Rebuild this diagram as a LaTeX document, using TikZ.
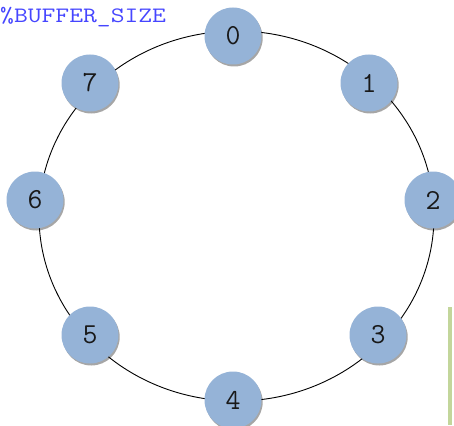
\documentclass[tikz,border=0pt]{standalone}
\usetikzlibrary{shadows}
\definecolor{slotblue}{RGB}{149,179,215}
\definecolor{labelblue}{RGB}{70,70,255}
\definecolor{bargreen}{RGB}{195,214,155}
\begin{document}
\begin{tikzpicture}[x=1pt,y=-1pt,
  slot/.style={circle, fill=slotblue, minimum size=57pt, inner sep=0pt,
    font=\ttfamily\fontsize{29}{29}\selectfont, text=black!90,
    drop shadow={shadow xshift=1.2pt, shadow yshift=-2pt, opacity=0.35, fill=black}},
  ring/.style={draw=black, line width=0.9pt}]
\useasboundingbox (0,0) rectangle (454,425);
% the ring of buffer slots
\draw[ring] (236.5,216) ellipse [x radius=197.5, y radius=185];
\node[slot] (s0) at (233,36) {0};
\node[slot] (s1) at (369,83) {1};
\node[slot] (s2) at (433,200) {2};
\node[slot] (s3) at (378,335) {3};
\node[slot] (s4) at (233,400) {4};
\node[slot] (s5) at (90,335) {5};
\node[slot] (s6) at (35,200) {6};
\node[slot] (s7) at (90,83) {7};
% size label
\node[anchor=base west, inner sep=0pt, text=labelblue,
  font=\ttfamily\fontsize{22}{22}\selectfont] (size) at (0,23)
  {\scalebox{1.22}[1]{\%BUFFER\_SIZE}};
% edge of a neighbouring panel
\fill[bargreen] (448,307) rectangle (452,425);
\end{tikzpicture}
\end{document}
